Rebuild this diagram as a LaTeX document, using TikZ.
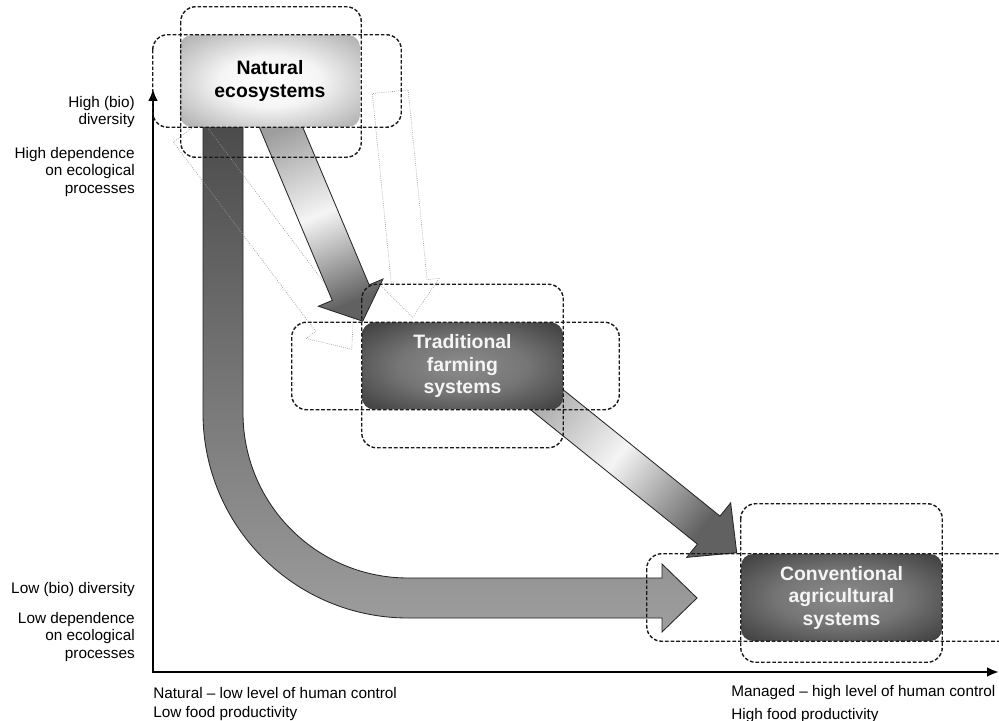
\documentclass[tikz,border=0pt]{standalone}
\usepackage{fontspec}
\setmainfont{Liberation Sans}
\usepackage{tikz}
\usetikzlibrary{shapes,arrows,arrows.meta,positioning,calc,backgrounds}

\pgfdeclareradialshading{wildshade}{\pgfpoint{0bp}{0bp}}{color(0bp)=(white); color(14bp)=(white!96!black); color(50bp)=(black!52); color(72bp)=(black!75)}
\pgfdeclareradialshading{farmshade}{\pgfpoint{0bp}{0bp}}{color(0bp)=(black!45); color(16bp)=(black!54); color(50bp)=(black!93); color(72bp)=(black)}

% block arrow: [style]{from}{to}{half shaft}{half head}{head length}
\newcommand{\blockarrow}[6][]{%
  \coordinate (ba-base) at ($(#3)!#6!(#2)$);
  \draw[#1] ($(#2)!#4!90:(#3)$) -- ($(ba-base)!#4!90:(#3)$) -- ($(ba-base)!#5!90:(#3)$) -- (#3)
    -- ($(ba-base)!#5!-90:(#3)$) -- ($(ba-base)!#4!-90:(#3)$) -- ($(#2)!#4!-90:(#3)$) -- cycle;
}

\begin{document}
\begin{tikzpicture}[
    x=0.25mm, y=-0.25mm,
    system/.style={rectangle, rounded corners=3mm, minimum width=50.25mm, minimum height=21.75mm, inner sep=0pt, align=center, font=\fontsize{13.8}{16}\selectfont\bfseries},
    wild/.style={system, minimum width=45mm, minimum height=23mm, shade, shading=wildshade, text=black},
    farmed/.style={system, shade, shading=farmshade, text=black!4},
    halo/.style={draw=black!90, line width=1pt, dash pattern=on 2.6pt off 1.4pt, rounded corners=3.75mm},
    flow/.style={draw=black!85, line width=0.6pt, top color=black!38, bottom color=black!62, middle color=black!4},
    ghost/.style={draw=black!40, line width=0.5pt, densely dotted},
    sidetext/.style={inner sep=0pt, font=\fontsize{10.9}{12.4}\selectfont},
    axis/.style={{Latex[length=8.5pt,width=7pt]}-{Latex[length=8.5pt,width=7pt]}, line width=2pt}
]
\useasboundingbox (0,0) rectangle (999,721);

% Nodes
\node[wild] (nat) at (270,81) {Natural\\ecosystems};
\node[farmed] (trad) at (462.5,366) {Traditional\\farming\\systems};
\node[farmed] (conv) at (841.5,597.5) {Conventional\\agricultural\\systems};

% Axis texts
\node[sidetext, anchor=east, align=right] (hidiv) at (135,112) {High (bio)\\diversity};
\node[sidetext, anchor=east, align=right] (hidep) at (135,172) {High dependence\\on ecological\\processes};
\node[sidetext, anchor=east, align=right] (lodiv) at (135,590) {Low (bio) diversity};
\node[sidetext, anchor=east, align=right] (lodep) at (135,637) {Low dependence\\on ecological\\processes};
\node[sidetext, anchor=north west, align=left] (natctl) at (153,687) {Natural -- low level of human control\\[1pt]Low food productivity};
\node[sidetext, anchor=north west, align=left] (manctl) at (731,685) {Managed -- high level of human control\\[4pt]High food productivity};

% Axes
\coordinate (ytop) at (153,89);
\coordinate (xend) at (999,672);
\draw[axis] (ytop) |- (xend);

% Dashed outlines
\draw[halo] ($(nat.north west)+(-27,0)$) rectangle ($(nat.south east)+(41,0)$);
\draw[halo] ($(nat.north west)+(1,-28)$) rectangle ($(nat.south east)+(1,30)$);
\draw[halo] ($(trad.north west)+(-70,0)$) rectangle ($(trad.south east)+(56,0)$);
\draw[halo] ($(trad.north west)+(0,-38)$) rectangle ($(trad.south east)+(0,38)$);
\draw[halo] ($(conv.north west)+(-94,0)$) rectangle ($(conv.south east)+(80,0)$);
\draw[halo] ($(conv.north west)+(0,-50)$) rectangle ($(conv.south east)+(0,21)$);

% Arrows
\begin{scope}[on background layer]
\draw[flow, top color=black!72, bottom color=black!38] (203,100) -- (203,413) arc[start angle=180, end angle=90, radius=205]
  -- (662,618) -- (662,632) -- (697,598) -- (662,564) -- (662,578) -- (408,578)
  arc[start angle=90, end angle=180, radius=165] -- (243,100) -- cycle;
\coordinate (gl1) at ($(nat.south west)+(8,4)$);
\coordinate (gl2) at ($(trad.north west)+(-10,27)$);
\coordinate (gr1) at ($(nat.north east)+(30,57)$);
\coordinate (gr2) at ($(trad.north west)+(51,-5)$);
\blockarrow[ghost]{gl1}{gl2}{4.5mm}{7.5mm}{9mm}
\blockarrow[ghost]{gr1}{gr2}{4.5mm}{7.5mm}{9mm}
\coordinate (n1s) at ($(nat.south)+(6,-12)$);
\coordinate (n1e) at ($(trad.north west)+(1,-1)$);
\blockarrow[flow, shading angle=23]{n1s}{n1e}{5mm}{8.75mm}{7.75mm}
\coordinate (t1s) at ($(trad.center)+(47.5,4)$);
\coordinate (t1e) at ($(conv.north west)+(-4,-1)$);
\blockarrow[flow, shading angle=51]{t1s}{t1e}{4.5mm}{8.75mm}{9mm}
\end{scope}

\end{tikzpicture}
\end{document}
